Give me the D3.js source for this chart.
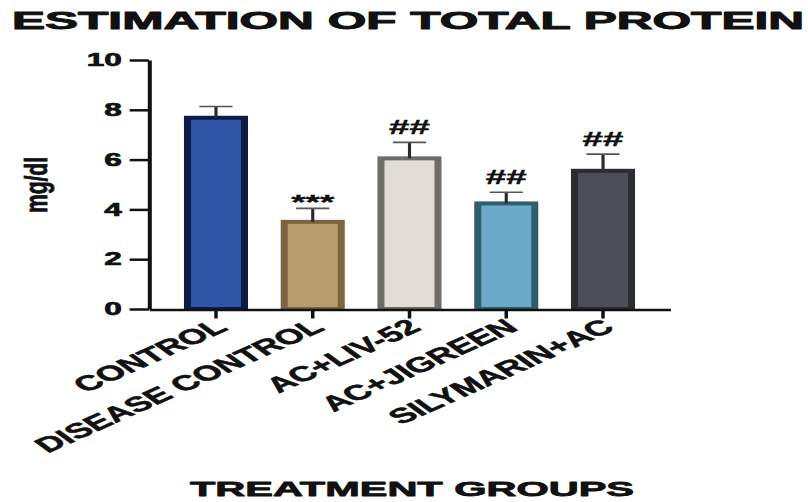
<!DOCTYPE html>
<html>
<head>
<meta charset="utf-8">
<script src="https://cdn.jsdelivr.net/npm/d3@7"></script>
<style>
  html, body { margin: 0; padding: 0; background: #ffffff; }
  svg { display: block; }
  text { font-family: "Liberation Sans", Arial, sans-serif; font-weight: bold; fill: #111; }
</style>
</head>
<body>
<svg id="chart" width="808" height="502"></svg>
<script>
// Total protein (mg/dl) per treatment group, mean with upper SEM whisker
const groups = ["CONTROL", "DISEASE CONTROL", "AC+LIV-52", "AC+JIGREEN", "SILYMARIN+AC"];
const means = [7.68, 3.50, 6.05, 4.24, 5.55];
const sems = [0.45, 0.54, 0.64, 0.45, 0.67];
const marks = ["", "***", "##", "##", "##"];
const fills = ["#2f56a6", "#b89c6c", "#e1dcd4", "#6aa9c8", "#4b4e56"];
const strokes = ["#0d1c45", "#7d6440", "#6e6c66", "#2f5d6b", "#2b2d31"];
const yTicks = [0, 2, 4, 6, 8, 10];

const titleText = "ESTIMATION OF TOTAL PROTEIN";
const xTitle = "TREATMENT GROUPS";
const yTitle = "mg/dl";

// The figure is drawn in a narrow frame and widened horizontally
const SX = 1.75;
const FONT = "'Liberation Sans', Arial, sans-serif";
const svg = d3.select("#chart");
const g = svg.append("g").attr("transform", `scale(${SX},1)`);

// heavy lettering: outline each glyph in its own colour
function heavy(sel, w) {
  sel.style("font-family", FONT).style("font-weight", "bold")
    .attr("fill", "#111").attr("stroke", "#111")
    .attr("stroke-width", w).attr("stroke-linejoin", "round");
}

const x = d3.scaleBand()
  .domain(groups)
  .range([85.1, 382.9])
  .paddingInner(0.338)
  .paddingOuter(0.362);

const y = d3.scaleLinear().domain([0, 10]).range([309, 60]);

const rows = groups.map((name, i) => ({
  name, mean: means[i], sem: sems[i], mark: marks[i], fill: fills[i], stroke: strokes[i]
}));

// Bars
const bw = 4;
g.append("g").selectAll("rect")
  .data(rows)
  .join("rect")
  .attr("x", d => x(d.name) + bw / 2)
  .attr("width", x.bandwidth() - bw)
  .attr("y", d => y(d.mean))
  .attr("height", d => y(0) - y(d.mean))
  .attr("fill", d => d.fill)
  .attr("stroke", d => d.stroke)
  .attr("stroke-width", bw);

// Upper error whiskers
const err = g.append("g");
err.selectAll("line.whisker")
  .data(rows)
  .join("line")
  .attr("class", "whisker")
  .attr("x1", d => x(d.name) + x.bandwidth() / 2)
  .attr("x2", d => x(d.name) + x.bandwidth() / 2)
  .attr("y1", d => y(d.mean))
  .attr("y2", d => y(d.mean + d.sem))
  .attr("stroke", "#2a2a2a")
  .attr("stroke-width", 1.8);
err.selectAll("line.cap")
  .data(rows)
  .join("line")
  .attr("class", "cap")
  .attr("x1", d => x(d.name) + x.bandwidth() / 2 - 9.5)
  .attr("x2", d => x(d.name) + x.bandwidth() / 2 + 9.5)
  .attr("y1", d => y(d.mean + d.sem))
  .attr("y2", d => y(d.mean + d.sem))
  .attr("stroke", "#555")
  .attr("stroke-width", 1.6);

// Significance marks above the whiskers
g.append("g").selectAll("text")
  .data(rows.filter(d => d.mark))
  .join("text")
  .attr("x", d => x(d.name) + x.bandwidth() / 2)
  .attr("y", d => y(d.mean + d.sem) + (d.mark === "***" ? 1 : -8))
  .attr("text-anchor", "middle")
  .style("font-size", "21px")
  .text(d => d.mark)
  .call(heavy, 0.4);

// Y axis
const yAxis = g.append("g")
  .attr("transform", `translate(${x.range()[0]},0)`)
  .call(d3.axisLeft(y).tickValues(yTicks).tickSize(11).tickSizeOuter(0).tickPadding(4.5));
yAxis.select(".domain").attr("stroke", "#111").attr("stroke-width", 2.3);
yAxis.selectAll(".tick line").attr("stroke", "#111").attr("stroke-width", 2.5);
yAxis.selectAll(".tick text").style("font-size", "18px").call(heavy, 0.7);

// X axis
const xAxis = g.append("g")
  .attr("transform", `translate(0,${y(0) + 0.5})`)
  .call(d3.axisBottom(x).tickSize(9).tickSizeOuter(0));
xAxis.select(".domain").attr("stroke", "#111").attr("stroke-width", 2.6);
xAxis.selectAll(".tick line").attr("stroke", "#111").attr("stroke-width", 2);
xAxis.selectAll(".tick text")
  .attr("x", 0).attr("y", 0).attr("dy", "0.35em")
  .attr("transform", "translate(3,14) rotate(-38)")
  .style("text-anchor", "end")
  .style("font-size", "21px")
  .call(heavy, 0.55);

// Titles
g.append("text")
  .attr("x", 12 / SX).attr("y", 29)
  .attr("textLength", 792 / SX).attr("lengthAdjust", "spacingAndGlyphs")
  .style("font-size", "23px")
  .text(titleText)
  .call(heavy, 0.9);

g.append("text")
  .attr("x", 190 / SX).attr("y", 496)
  .attr("textLength", 444 / SX).attr("lengthAdjust", "spacingAndGlyphs")
  .style("font-size", "21px")
  .text(xTitle)
  .call(heavy, 0.8);

g.append("text")
  .attr("transform", `translate(${47 / SX},185) rotate(-90)`)
  .attr("text-anchor", "middle")
  .attr("textLength", 56).attr("lengthAdjust", "spacingAndGlyphs")
  .style("font-size", "18px")
  .text(yTitle)
  .call(heavy, 0.5);
</script>
</body>
</html>
